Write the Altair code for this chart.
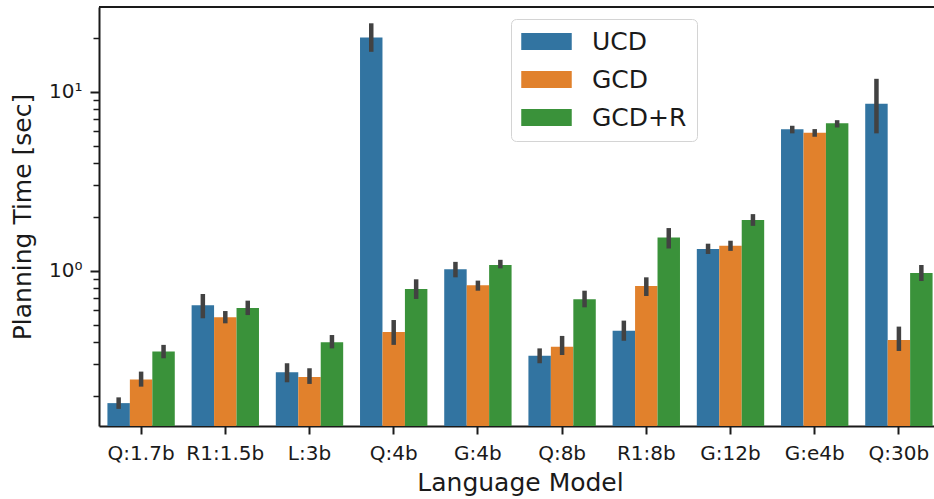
import altair as alt
import pandas as pd

# Planning time per language model, mean with 95% CI, for three decoding modes
models = ["Q:1.7b", "R1:1.5b", "L:3b", "Q:4b", "G:4b", "Q:8b", "R1:8b", "G:12b", "G:e4b", "Q:30b"]
methods = ["UCD", "GCD", "GCD+R"]

ucd = [0.182, 0.641, 0.271, 20.1, 1.02, 0.335, 0.461, 1.32, 6.17, 8.57]
ucd_lo = [0.169, 0.542, 0.238, 16.7, 0.918, 0.304, 0.406, 1.24, 5.85, 5.85]
ucd_hi = [0.196, 0.741, 0.304, 24.1, 1.12, 0.368, 0.526, 1.415, 6.45, 11.8]

gcd = [0.247, 0.549, 0.255, 0.455, 0.828, 0.376, 0.822, 1.38, 5.90, 0.41]
gcd_lo = [0.225, 0.508, 0.233, 0.385, 0.773, 0.338, 0.722, 1.29, 5.60, 0.356]
gcd_hi = [0.273, 0.595, 0.285, 0.530, 0.880, 0.432, 0.918, 1.47, 6.18, 0.487]

gcdr = [0.353, 0.619, 0.398, 0.79, 1.076, 0.692, 1.53, 1.92, 6.66, 0.97]
gcdr_lo = [0.324, 0.565, 0.368, 0.695, 1.03, 0.624, 1.33, 1.78, 6.31, 0.876]
gcdr_hi = [0.385, 0.680, 0.437, 0.895, 1.15, 0.773, 1.73, 2.07, 6.93, 1.076]

colors = ["#3274a1", "#e1812c", "#3a923a"]
y_ticks = [0.2, 0.3, 0.4, 0.5, 0.6, 0.7, 0.8, 0.9, 1, 2, 3, 4, 5, 6, 7, 8, 9, 10, 20]
y_min, y_max = 0.1356, 29.72

rows = []
for name, mean, lo, hi in [("UCD", ucd, ucd_lo, ucd_hi),
                           ("GCD", gcd, gcd_lo, gcd_hi),
                           ("GCD+R", gcdr, gcdr_lo, gcdr_hi)]:
    for m, v, a, b in zip(models, mean, lo, hi):
        rows.append({"model": m, "method": name, "time": v, "lo": a, "hi": b})
df = pd.DataFrame(rows)

W, H = 835, 419
FONT = "DejaVu Sans"
INK = "#1a1a1a"

x_enc = alt.X(
    "model:N", sort=models,
    scale=alt.Scale(range=[0, 842], paddingInner=0.2, paddingOuter=0.1),
    axis=alt.Axis(
        title="Language Model", labelAngle=0, labelFontSize=20, labelFont=FONT,
        labelColor=INK, labelPadding=9, tickSize=8, tickWidth=2, tickColor=INK,
        domainColor=INK, domainWidth=2, titleFontSize=25, titleFont=FONT,
        titleFontWeight="normal", titleColor=INK, titleX=421, titleY=64,
        titleBaseline="alphabetic",
    ),
)
xo_enc = alt.XOffset("method:N", sort=methods,
                     scale=alt.Scale(paddingInner=0, paddingOuter=0))

y_scale = alt.Scale(type="log", domain=[y_min, y_max], nice=False)

bars = alt.Chart(df).mark_bar().encode(
    x=x_enc,
    xOffset=xo_enc,
    y=alt.Y(
        "time:Q", scale=y_scale,
        axis=alt.Axis(
            title="Planning Time [sec]", values=y_ticks, grid=False,
            labelExpr="datum.value == 1 ? '10⁰' : datum.value == 10 ? '10¹' : ''",
            labelFontSize=20, labelFont=FONT, labelColor=INK, labelPadding=8,
            tickSize={"condition": {"test": "datum.value == 1 || datum.value == 10", "value": 9}, "value": 6},
            tickWidth={"condition": {"test": "datum.value == 1 || datum.value == 10", "value": 2}, "value": 1.5},
            tickColor=INK, domainColor=INK, domainWidth=2,
            titleFontSize=25, titleFont=FONT, titleFontWeight="normal", titleColor=INK,
            titleX=-69, titleY=H / 2, titleBaseline="alphabetic", titleAngle=270,
        ),
    ),
    y2=alt.Y2(datum=y_min),
    color=alt.Color(
        "method:N", sort=methods,
        scale=alt.Scale(domain=methods, range=colors),
        legend=alt.Legend(
            title=None, orient="none", legendX=412, legendY=12,
            symbolType="M-1,-0.34H1V0.34H-1Z", symbolSize=2550, symbolStrokeWidth=0,
            symbolOpacity=1, clipHeight=25, rowPadding=12, labelOffset=20,
            labelFontSize=25, labelFont=FONT, labelColor=INK, padding=10,
            fillColor="rgba(255,255,255,0.8)", strokeColor="#d4d4d4",
            cornerRadius=5,
        ),
    ),
)

errs = alt.Chart(df).mark_rule(color="#424242", strokeWidth=4.5).encode(
    x=alt.X("model:N", sort=models),
    xOffset=alt.XOffset("method:N", sort=methods),
    y=alt.Y("lo:Q", scale=y_scale),
    y2="hi:Q",
)

top_spine = alt.Chart(df).mark_rule(color=INK, strokeWidth=2).encode(
    x=alt.value(0), x2=alt.value(842), y=alt.value(0)
)

chart = alt.layer(bars, errs, top_spine).properties(
    width=W, height=H,
    autosize=alt.AutoSizeParams(type="none"),
    padding={"left": 99, "top": 7, "right": 0, "bottom": 73},
).configure_view(stroke=None)

chart.save("out.html", embed_options={"renderer": "svg", "actions": False})
